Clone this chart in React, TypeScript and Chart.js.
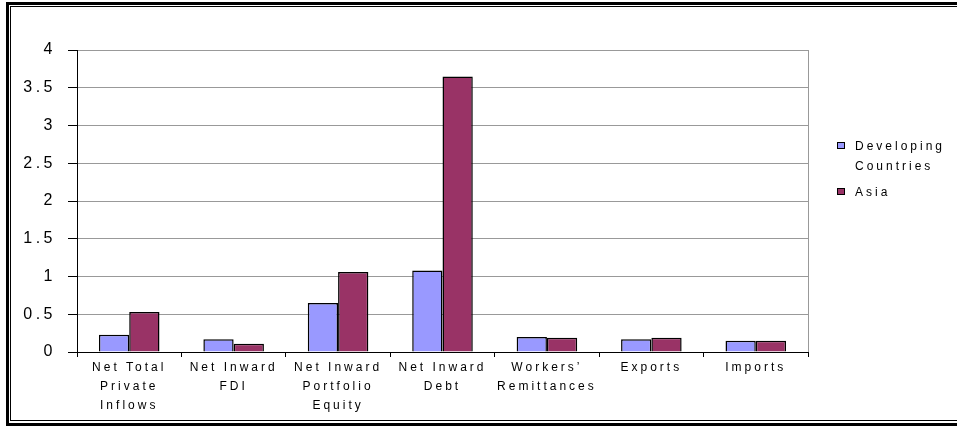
import React, { useEffect, useRef } from "react";
import { Chart, registerables } from "chart.js";

Chart.register(...registerables);

const categories: string[][] = [
  ["Net Total", "Private", "Inflows"],
  ["Net Inward", "FDI"],
  ["Net Inward", "Portfolio", "Equity"],
  ["Net Inward", "Debt"],
  ["Workers’", "Remittances"],
  ["Exports"],
  ["Imports"],
];
const developingCountries = [0.23, 0.17, 0.65, 1.08, 0.2, 0.17, 0.15];
const asia = [0.53, 0.11, 1.06, 3.65, 0.19, 0.19, 0.15];
const seriesNames = ["Developing Countries", "Asia"];
const seriesColors = ["#9999FF", "#993366"];
const yMin = 0;
const yMax = 4;
const yStep = 0.5;

const FONT = "'Liberation Sans', Arial, sans-serif";

function letterSpaced(px: number) {
  return (scale: any) => {
    if (scale.__ls) return;
    scale.__ls = true;
    const orig = scale.drawLabels.bind(scale);
    scale.drawLabels = (area: any) => {
      const ctx = scale.ctx;
      ctx.save();
      ctx.letterSpacing = px + "px";
      orig(area);
      ctx.restore();
    };
  };
}

const framePlugin = {
  id: "frame",
  beforeDraw(chart: any) {
    const ctx = chart.ctx;
    ctx.save();
    ctx.fillStyle = "#ffffff";
    ctx.fillRect(0, 0, chart.width, chart.height);
    ctx.strokeStyle = "#000000";
    ctx.lineWidth = 3;
    ctx.strokeRect(7.5, 3.5, chart.width + 20, 421);
    ctx.lineWidth = 1;
    ctx.strokeRect(10.5, 6.5, chart.width + 20, 414);
    ctx.restore();
  },
  beforeDatasetsDraw(chart: any) {
    const ctx = chart.ctx;
    const a = chart.chartArea;
    ctx.save();
    ctx.strokeStyle = "#999999";
    ctx.lineWidth = 1;
    ctx.beginPath();
    ctx.moveTo(Math.round(a.right) + 0.5, a.top);
    ctx.lineTo(Math.round(a.right) + 0.5, a.bottom);
    ctx.stroke();
    ctx.restore();
  },
};

const legendPlugin = {
  id: "customLegend",
  afterDraw(chart: any) {
    const ctx = chart.ctx;
    ctx.save();
    ctx.font = "12px " + FONT;
    ctx.letterSpacing = "3px";
    ctx.fillStyle = "#000";
    ctx.textBaseline = "alphabetic";
    const boxX = 837.5;
    const textX = 855;
    const maxW = 100;
    let y = 150;
    chart.data.datasets.forEach((ds: any) => {
      const words = String(ds.label).split(" ");
      const lines: string[] = [];
      let cur = "";
      words.forEach((w) => {
        const t = cur ? cur + " " + w : w;
        if (cur && ctx.measureText(t).width > maxW) {
          lines.push(cur);
          cur = w;
        } else cur = t;
      });
      if (cur) lines.push(cur);
      ctx.fillStyle = ds.backgroundColor;
      ctx.fillRect(boxX, y - 7.5, 7, 6);
      ctx.strokeStyle = "#000";
      ctx.lineWidth = 1;
      ctx.strokeRect(boxX, y - 7.5, 7, 6);
      ctx.fillStyle = "#000";
      lines.forEach((ln, i) => {
        ctx.fillText(ln, textX, y + i * 20);
      });
      y += lines.length * 20 + 6;
    });
    ctx.restore();
  },
};

export default function App() {
  const ref = useRef<HTMLCanvasElement | null>(null);
  useEffect(() => {
    if (!ref.current) return;
    const barStyle = {
      borderColor: "#000000",
      borderWidth: 1.5,
      borderSkipped: "start",
      categoryPercentage: 0.58,
      barPercentage: 1,
    };
    const chart = new Chart(ref.current, {
      type: "bar",
      data: {
        labels: categories,
        datasets: [
          {
            label: seriesNames[0],
            data: developingCountries,
            backgroundColor: seriesColors[0],
            ...barStyle,
          } as any,
          {
            label: seriesNames[1],
            data: asia,
            backgroundColor: seriesColors[1],
            ...barStyle,
          } as any,
        ],
      },
      options: {
        responsive: false,
        animation: false,
        devicePixelRatio: 1,
        layout: { padding: { left: 0, top: 50, right: 149, bottom: 0 } },
        plugins: {
          legend: { display: false },
          tooltip: { enabled: false },
        },
        scales: {
          x: {
            grid: {
              display: true,
              drawOnChartArea: false,
              drawTicks: true,
              tickLength: 5,
              tickColor: "#000000",
              offset: true,
            },
            border: { display: true, color: "#000000", width: 1 },
            ticks: {
              font: { family: FONT, size: 12, lineHeight: 1.6 },
              color: "#000000",
              maxRotation: 0,
              minRotation: 0,
              autoSkip: false,
              padding: 1,
            },
            afterFit: (s: any) => {
              s.height = 75;
            },
            afterBuildTicks: letterSpaced(3),
          } as any,
          y: {
            min: yMin,
            max: yMax,
            ticks: {
              stepSize: yStep,
              font: { family: FONT, size: 16 },
              color: "#000000",
              padding: 12,
              callback: (v: any) => String(Number(v)),
            },
            grid: {
              color: "#999999",
              tickColor: "#000000",
              tickLength: 9,
              drawTicks: true,
            },
            border: { display: true, color: "#000000", width: 1 },
            afterFit: (s: any) => {
              s.width = 77;
            },
            afterBuildTicks: letterSpaced(3.5),
          } as any,
        },
      },
      plugins: [framePlugin, legendPlugin],
    });
    return () => chart.destroy();
  }, []);
  return (
    <div style={{ position: "absolute", left: 0, top: 0, width: 957, height: 427 }}>
      <canvas ref={ref} width={957} height={427} />
    </div>
  );
}
